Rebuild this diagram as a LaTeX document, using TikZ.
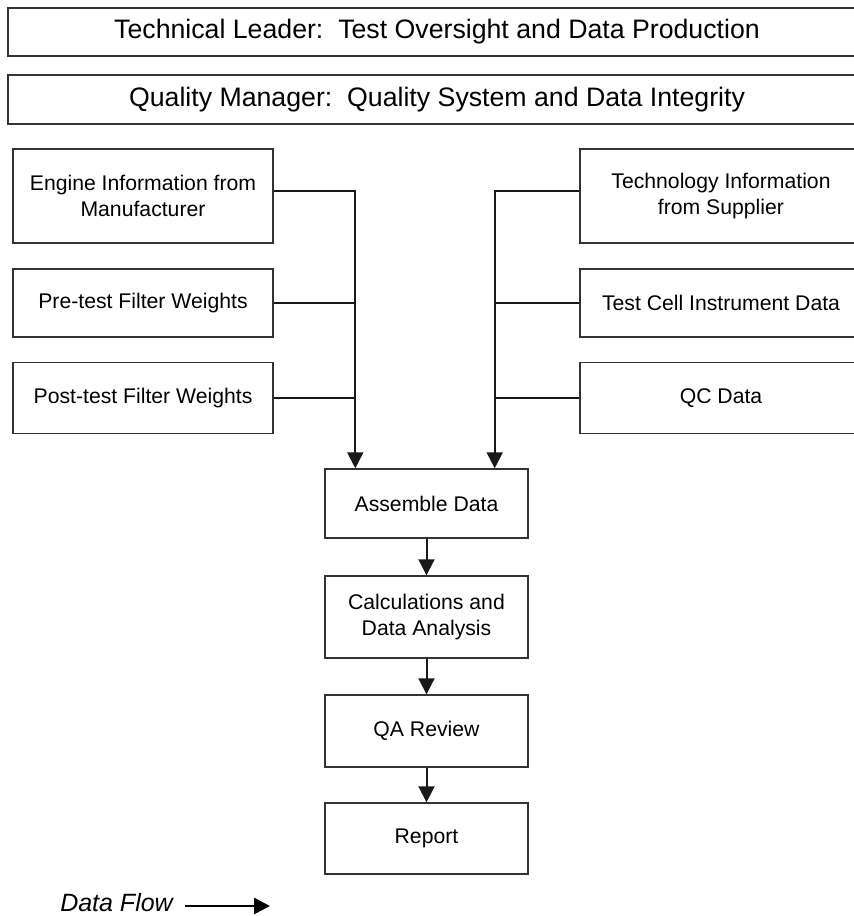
\documentclass[tikz,border=0pt]{standalone}
\usepackage{fontspec}
\setmainfont{Liberation Sans}
\usetikzlibrary{arrows.meta,calc}
\begin{document}
\begin{tikzpicture}[x=1pt,y=-1pt,
  box/.style={draw=black!80,line width=1.4pt,inner sep=0pt,align=center,
    font=\fontsize{21.2}{25.5}\selectfont},
  topbox/.style={draw=black!80,line width=1.4pt,inner sep=0pt,align=center,
    font=\fontsize{26.7}{30}\selectfont},
  conn/.style={black!90,line width=2pt},
  flowarrow/.style={conn,-{Triangle[length=16pt,width=16pt]}}]
\useasboundingbox (0,0) rectangle (854,916);
% top boxes
\node[topbox,minimum width=858pt,minimum height=48pt] (tl) at (437,32) {Technical Leader:\ \ Test Oversight and Data Production};
\node[topbox,minimum width=858pt,minimum height=49pt] (qm) at (437,99.5) {Quality Manager:\ \ Quality System and Data Integrity};
% left inputs
\node[box,minimum width=260pt,minimum height=94pt] (eng) at (143,196) {Engine Information from\\Manufacturer};
\node[box,minimum width=260pt,minimum height=68pt] (pre) at (143,303) {Pre-test Filter Weights};
\node[box,minimum width=260pt,minimum height=71pt] (post) at (143,398) {Post-test Filter Weights};
% right inputs
\node[box,minimum width=282pt,minimum height=94pt] (tech) at (721,196) {Technology Information\\from Supplier};
\node[box,minimum width=282pt,minimum height=68pt] (cell) at (721,303) {Test Cell Instrument Data};
\node[box,minimum width=282pt,minimum height=71pt] (qc) at (721,398) {QC Data};
% central chain
\node[box,minimum width=203pt,minimum height=69pt] (asm) at (426.5,503.5) {Assemble Data};
\node[box,minimum width=203pt,minimum height=82pt] (calc) at (426.5,617) {Calculations and\\Data Analysis};
\node[box,minimum width=203pt,minimum height=72pt] (qa) at (426.5,731) {QA Review};
\node[box,minimum width=203pt,minimum height=71pt] (rep) at (426.5,838.5) {Report};
% junction points on top of Assemble Data
\coordinate (lj) at ($(asm.north west)+(31,0)$);
\coordinate (rj) at ($(asm.north east)+(-34,0)$);
\coordinate (engout) at ($(eng.east)+(0,-5)$);
\coordinate (techout) at ($(tech.west)+(0,-5)$);
% connectors
\draw[flowarrow] (engout) -| (lj);
\draw[conn] (pre.east) -- (pre.east -| lj);
\draw[conn] (post.east) -- (post.east -| lj);
\draw[flowarrow] (techout) -| (rj);
\draw[conn] (cell.west) -- (cell.west -| rj);
\draw[conn] (qc.west) -- (qc.west -| rj);
\draw[flowarrow] (asm.south) -- (calc.north);
\draw[flowarrow] (calc.south) -- (qa.north);
\draw[flowarrow] (qa.south) -- (rep.north);
% legend
\node[anchor=base east,inner sep=0pt,font=\fontsize{25}{30}\selectfont\itshape] (dflab) at (173,911) {Data Flow};
\coordinate (dfstart) at (185,906);
\coordinate (dfend) at (270,906);
\draw[line width=2.8pt,-{Triangle[length=16pt,width=16pt]}] (dfstart) -- (dfend);
\end{tikzpicture}
\end{document}
